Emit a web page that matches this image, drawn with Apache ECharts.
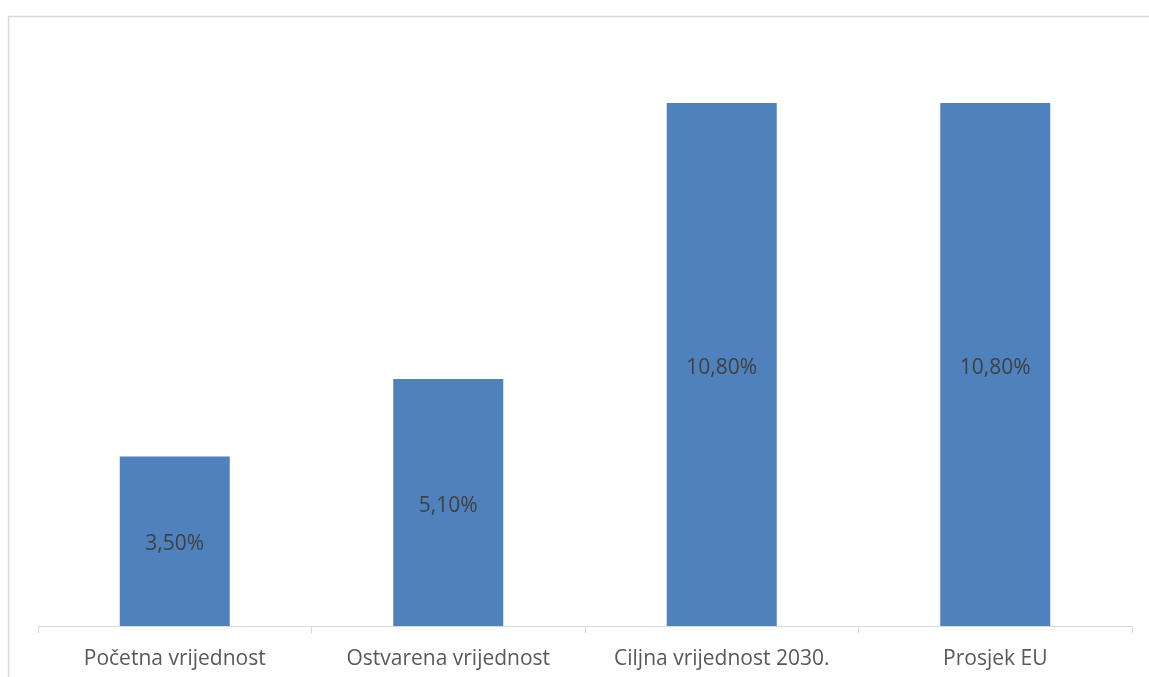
<!DOCTYPE html>
<html>
<head>
<meta charset="utf-8">
<script src="https://cdn.jsdelivr.net/npm/echarts@6/dist/echarts.min.js"></script>
<style>
html,body{margin:0;padding:0;background:#fff;}
#chart{width:1149px;height:677px;}
</style>
</head>
<body>
<div id="chart"></div>
<script>
const categories = ['Početna vrijednost', 'Ostvarena vrijednost', 'Ciljna vrijednost 2030.', 'Prosjek EU'];
const values = [3.5, 5.1, 10.8, 10.8];

const chart = echarts.init(document.getElementById('chart'));
chart.setOption({
  animation: false,
  backgroundColor: '#ffffff',
  graphic: [{
    type: 'rect',
    shape: { x: 8.5, y: 16.5, width: 1300, height: 800 },
    style: { fill: 'none', stroke: '#d9d9d9', lineWidth: 1.5 },
    silent: true
  }],
  grid: { left: 38, right: 17, top: 45, bottom: 51 },
  xAxis: {
    type: 'category',
    data: categories,
    axisLine: { lineStyle: { color: '#d9d9d9', width: 1 } },
    axisTick: { show: true, interval: 0, alignWithLabel: false, length: 7, lineStyle: { color: '#d9d9d9' } },
    axisLabel: { interval: 0, hideOverlap: false, color: '#595959', fontSize: 21, fontFamily: 'Open Sans, sans-serif', margin: 23 }
  },
  yAxis: {
    type: 'value',
    min: 0, max: 12,
    show: false,
    splitLine: { show: false }
  },
  series: [{
    type: 'bar',
    data: values,
    barWidth: 110,
    itemStyle: { color: '#4f81bd' },
    label: {
      show: true,
      position: 'inside',
      offset: [0, 3],
      color: '#404040',
      fontSize: 21,
      fontFamily: 'Open Sans, sans-serif',
      formatter: p => p.value.toFixed(2).replace('.', ',') + '%'
    }
  }]
});
</script>
</body>
</html>
